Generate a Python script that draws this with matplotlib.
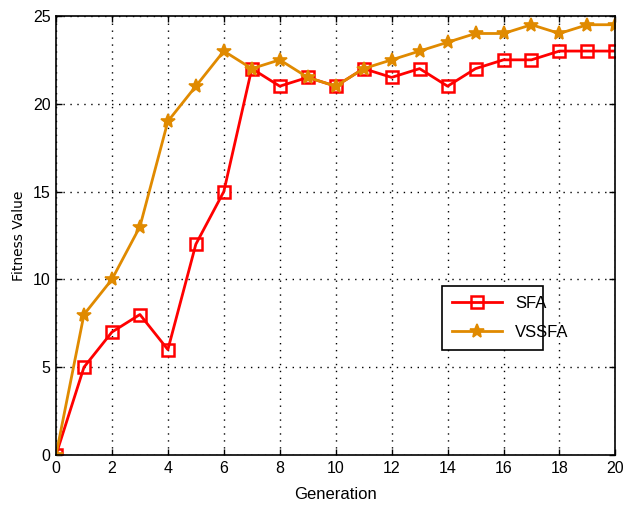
import matplotlib
matplotlib.use("Agg")
import matplotlib.pyplot as plt

generations = list(range(0, 21))
sfa = [0, 5, 7, 8, 6, 12, 15, 22, 21, 21.5, 21, 22, 21.5, 22, 21, 22, 22.5, 22.5, 23, 23, 23]
vssfa = [0, 8, 10, 13, 19, 21, 23, 22, 22.5, 21.5, 21, 22, 22.5, 23, 23.5, 24, 24, 24.5, 24, 24.5, 24.5]
xticks = list(range(0, 21, 2))
yticks = [0, 5, 10, 15, 20, 25]

plt.rcParams['font.family'] = ["Liberation Sans", "DejaVu Sans"]

fig = plt.figure(figsize=(6.25, 5.19), dpi=100)
ax = fig.add_axes([0.0896, 0.1233, 0.895, 0.846])

red = "#ff0000"
orange = "#e08a00"
ax.plot(generations, sfa, color=red, lw=2, marker='s', ms=8.5, mfc='none', mec=red, mew=1.8, label='SFA')
ax.plot(generations, vssfa, color=orange, lw=2, marker='*', ms=10, mfc=orange, mec=orange, mew=1.2, label='VSSFA')

ax.set_xlim(0, 20)
ax.set_ylim(0, 25)
ax.set_xticks(xticks)
ax.set_yticks(yticks)
ax.tick_params(direction='in', top=True, right=True, labelsize=11.5, length=4, width=1, pad=4)
ax.grid(True, linestyle=(0, (1, 4)), color='black', lw=1)
for s in ax.spines.values():
    s.set_linewidth(1.2)
ax.set_xlabel("Generation", fontsize=12, labelpad=8)
ax.set_ylabel("Fitness Value", fontsize=10, labelpad=5, family=["DejaVu Sans"])

leg = ax.legend(loc='lower left', bbox_to_anchor=(0.675, 0.221, 0.211, 0.171), mode='expand',
                fontsize=12, fancybox=False, edgecolor='black', framealpha=1, handlelength=3.0,
                borderpad=0.6, labelspacing=0.8)
leg.get_frame().set_linewidth(1.2)

fig.savefig("out.png", dpi=100)
